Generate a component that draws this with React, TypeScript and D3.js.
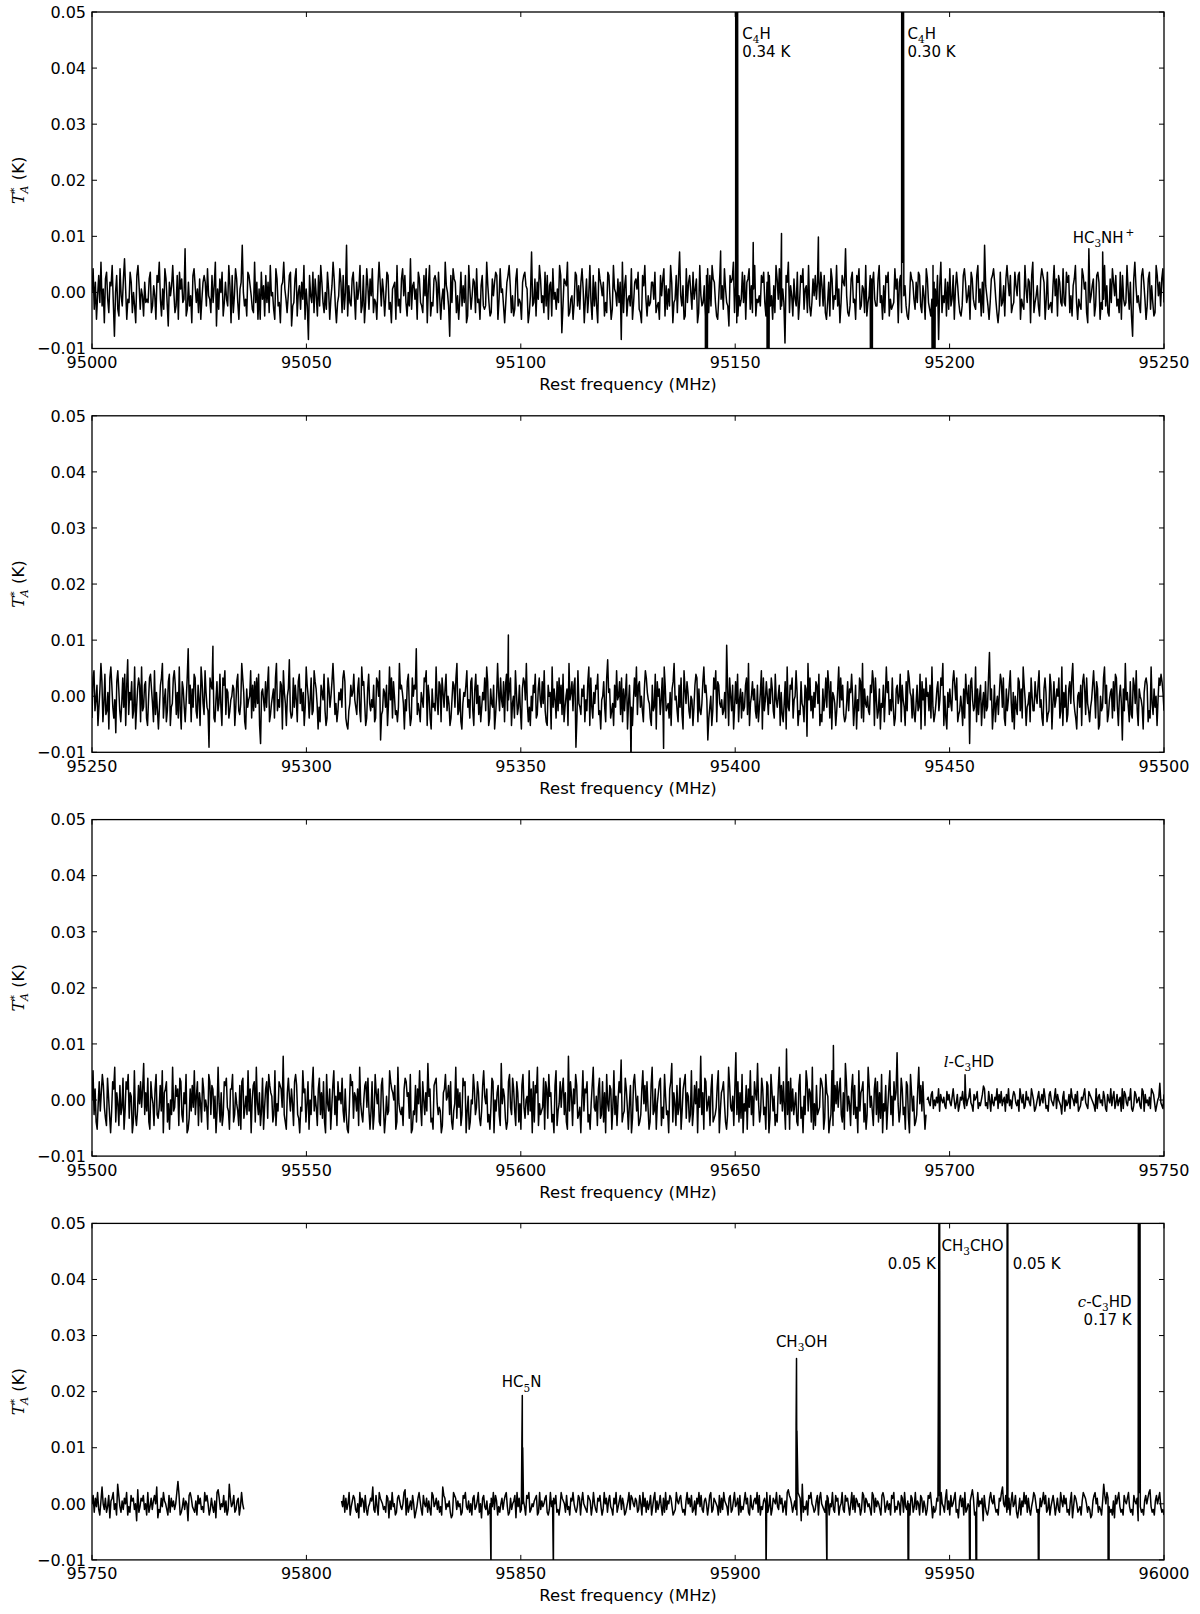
import React, { useEffect, useRef } from 'react';
import * as d3 from 'd3';

// Each character of a noise string is one channel; "u" is zero and every letter
// further along the alphabet is one more step (step size given per segment)
const LEVELS = "abcdefghijklmnopqrstuvwxyzABCDEFGHIJKLMNOPQRSTUVWXYZ";
const ZERO = LEVELS.indexOf("u");

const yTicks = [-0.01, 0, 0.01, 0.02, 0.03, 0.04, 0.05];

// ---- panel 1: 95000-95250 MHz
const noise1 = [
  "uBpxmtzrDqvlyAsoxwCrhuzpnBtqyEvmsrAxouqlzCwpvtnxrs",
  "ryAoqwtmzxDsnvpByrkxtwCuoqzmAvyrsHnpxqtlzBwrvoymsx",
  "zxqBtsozrwDkvpyuAnrxsqCwlzotByrmvxIuqsnAzwtpoDrxmv",
  "mAswnzrxoCtupmByqrlwxDvsotzAkqryBnuwpxsCmvqgztrAoy",
  "tnzqCxroupAvmswDyqlrtBxozpuInwrqyAtmxsvCoqzlrBwpyt",
  "BosrmwDxqyuntAzprlvwxmCqsoyBtzrnuqEpwxsvmAyrqoztBl",
  "wCnrqyzxoAtmsvpDwuqhzrByxotmsAqwrzlnCvptyxoBrsmwzq",
  "pqDwrnoytxAzmsBuvqlrxzCwotnpyBqsrmxzAwvlotGqrynxsC",
  "yrtoAqzmwxnBsupvrCziqyxwDnostmrAzqwpxBvlsyotCrmzqx",
  "qlBywtxnroAzsmpCvuqyrxgDowznstqBmrxyvApolzwCsntqrx",
  "xsAoqrmztyBnwpvqCxlrszoyGtqwmnBrxzupAsvyloCtqrwnzB",
  "ozqCyxrnmtAswpBvrqkzxyDowlntqsArzmxyBpwovCnsrtqzxA",
  "rnxAzqtmwoCysBpqvrfzxDowtnysqAmrzxBpvwoCqnrytzsxAq",
  "AwqzomrxnByptsCqvlrzxwHtonqyArsmzxBpqwvoCnrtzyxAsq",
  "qyCrtmwozxAnspqrBvylxzoDtwqnmrAyxsp",
  "xrAzqowtmByrpnsCxvqzgwDotrynxpBqszmvAwr",
  "onqzBxrtwmAysqpzCrvnxoIwtqmryzBxsolpAqrwnyCxtzoqrA",
  "wtzAmsqpCvryxlzDortwqnyBzxmsApqrowCtynzxrqB",
  "rqAxzotnwyCrmsqpBzvxolHrtwynqzAxmrpsCqwonyrBxtzqso",
  "AmzsqrCvpxnhyDwrtqozBxsmqyApwrnoCztxqyBr",
].join("");
const segments1 = [{ from: 95000, to: 95250, step: 0.0006, codes: noise1 }];
const lines1 = [
  [95143.1, -0.05], [95143.25, -0.15], [95143.4, -0.05],
  [95146.6, 0.0074],
  [95150.15, 0.15], [95150.3, 0.34], [95150.45, 0.15],
  [95154.2, 0.0089],
  [95157.45, -0.05], [95157.6, -0.15], [95157.75, -0.05],
  [95160.8, 0.0105],
  [95169.4, 0.0099],
  [95181.65, -0.05], [95181.8, -0.15], [95181.95, -0.05],
  [95188.85, 0.13], [95189.0, 0.30], [95189.15, 0.13],
  [95196.1, -0.05], [95196.25, -0.15], [95196.4, -0.05],
  [95235.7, 0.0072],
];
const labels1 = [
  { freq: 95151.65, value: 0.0452, text: "C_4H", anchor: "start" },
  { freq: 95151.65, value: 0.0420, text: "0.34 K", anchor: "start" },
  { freq: 95190.2, value: 0.0452, text: "C_4H", anchor: "start" },
  { freq: 95190.2, value: 0.0420, text: "0.30 K", anchor: "start" },
  { freq: 95235.9, value: 0.0089, text: "HC_3NH^+", anchor: "middle" },
];

// ---- panel 2: 95250-95500 MHz
const noise2 = [
  "ozBqtxmrwDynsApqvlzCxrotkyBwqnszrAmxEpvtyoqClrwzxnCqrxyomtzAwsnBpvqlrxzDotwnqyAmrszBxpvoCqlywrntzHsxnwrAzqoxtmCyspBvrqgzxwDontyqsArmzxBpwvoq",
  "tuxwmryAqpsDzvnlwrtuBoxqyrzsAmhvwtqyrxCnpsuwozDqtryxlBvsmuwEqopzrxtnyAswqvmrCxuotzpqBywslrnxvtAqmozwruyDxpsnqvtwrzByomlqsxuvAtrpwzqnCxysmo",
  "wAsqtrxnozyuBipqwvrxmsCtzoyupqnrDwxvsltqyArmozuxwHpsqnvtrzyBmxuolwrsqCtpyxnzvrwAqusmotyxrzDpqwnlsvuxBrtoyzqmwAsxpunrvtzqCymowsrxlpuDvqzt",
  "rynxAqtwzmsuoBvprxqlwzytDsnrmuqxvAopwztrysBqnmxuvlCrwtoyqzsxpAnruwmDtvyqxzgoBsrpwuxntqyCmzrovsxwApqltuyrnzEvwoqsmxrBtuypznwqvAlsxormtzuC",
  "pxyruqnwBzvtsomxqrAlyuwptznCxqrsovmwyDtuqnxrzplBwsyvqoutmrxAznwqpsyCvxtiorumqzwBnyxsrtpqvoIwmzuqxlrysAntwovqrxzpDmsuytwqoxnrvBlzqtyupws",
  "zwqoAtruxmvpnsylCrqxwzotuBvmqpysrnxwjDtzquovryxsAmpnwqtzrBxoylvusmqwCrztxpnosyqwvAumrxltqzyoDnwsruqpxvBymztoqwlsrxnuCvyptqzrmowxsuAn",
  "xtrmyqBzvuowpnsxqrAlytwmzuvqxoCrnpswyqtzxDmuolvrwsqyBxtznpqurmwoAvsxhyztqrCnwpuxmsvoyqrzGtwlqxnsupvAyrzomwqtxBsnvlurpzyqwoCxtmrsvnzuq",
  "qyusxBrtomwzvnpqAxlsyrtwuzoqCmvrxnpwyszDtqoluvrxmyAwpzsqnrtxBvoywlmuqrzCsxnptvwoyqAzrmuxsiwqDtvrnypozxsBqmwutrlvyzxnqoCspwrumtzxAyvq",
].join("");
const segments2 = [{ from: 95250, to: 95500, step: 0.00065, codes: noise2 }];
const lines2 = [
  [95278.2, 0.0089],
  [95347.1, 0.0109],
  [95375.7, -0.013],
  [95383.3, -0.0093],
];
const labels2 = [];

// ---- panel 3: 95500-95750 MHz (noise drops near 95695 MHz)
const noise3a = [
  "uCqxomtzrwByspnAvqlrzxDowtnyqsAmrzxBpwvloCqnrytzsxEqwrAomzvtnxBqpsyrClwxzotmuqDrsyvxnAzqowtBlmpxrysCqvznwtoAxrusmBzqyxpvlrDtownqzyAsrmx",
  "xBoqwtrnymzApsvqCrxluyzoDtqwnrAmsxzpBywvoqCntrzyxsGqomwAvrxtnzByqplsrCwxotzmuqyDrvsnxAqwpzolBtrxmsyCqvnzuwtAroxqmlsByzpwvrxnDtqouyzsArm",
  "rzmqBwtxonyAslpvqrCzxwuymoDtrqsnxAzvwpBlmrqyoxtCsnzuqwrEvxopmyzAtqsrlnwxBuvyqzomrtDpxswnqAyzlrvmoutBxqszwpnryCvtxoqmsAzlurwyqnEtxvpmozBs",
  "qAxrnzwotmyBspuvqCrxlzoywDntqrsAmzxpBvwoqlyCnrtzsxAqwomGrzvnxtBypqsluCrxwzoqmtyDsrvnxApqzowlBtryxmsCqvnuzwFoqrAxsmtylpzBwrvnoqxCtyrzsm",
  "oyDqrxmtwzAnspBvqrlxzEowtnyqsAmrxzBpwvoqCnrytzlxsGqwmAzrtvnxBopqsyClrwxztomqDysrvnxHqzowpBltrymxsCqvnzwuEtorAxqsmzylpBwrvnqoxDtyrzsmIq",
  "zmArxqtwonyBpslvqCzrxwoDmtnyqrsAzxmpBwvloqCnrytzsxAqowmEzrvtnxBqypslCrwxzotmqDysvrnxAqzowpBltrymsxCqvnzuwHtorAxqsmzyplBwrvnoqxDtyrzsmq",
].join("");
const noise3b = [
  "uvtswxrusvtyqwutvsrxuwtsvyurtwqsvuxtrwsuvytsqwuvxrtsuwzystrxuqwtsvuyrwtxsuvqwtysurvxwtsuqyvtwrsxuvtsywuqrtvxsuwtyvrsqwxutsvyrwuts",
  "pvxqustwryvuswtxqrsvuwytsrxwvutsqyrvwtusxvrqwutysvxrtwsuvqyrxwtsvuyrqsxwtuvsryxqwtusvryxwtqsuvAtsrw",
].join("");
const segments3 = [
  { from: 95500, to: 95694.5, step: 0.00065, codes: noise3a },
  { from: 95694.75, to: 95750, step: 0.0005, codes: noise3b },
];
const lines3 = [
  [95672.9, 0.0097],
  [95703.6, 0.0045],
];
const labels3 = [
  { freq: 95704.5, value: 0.0059, text: "~l-C_3HD", anchor: "middle" },
];

// ---- panel 4: 95750-96000 MHz (no data between 95785 and 95808 MHz)
const noise4a = "uxrwtysqvAuswrtxpvwysuqBxtrvswuyqtrxvwsuozrtwvxsuqyrtwsvxuApsrwtyvusqxrwtvsuyCxqrtwsvuoxywtsrvqxuwstryvxuqswtrvpyzwsutxrvqsBwtuxrsvwqtyus";
const noise4b = [
  "vtxrwsuyqtvxwsrupytwvrxsqtuwvAsrxtqywvustrxwpvsytuqrwxvtsuyzqwrtvsxuprtwyvsqxutwrvsqyxtuwsvrtqAxwsutvrpqyxwsvtuqrxwytsvruqwxstvyrupwxtsvq",
  "ruwtysxvqtruwsvxytqrwsuvxpytwrsuvtqxwyrsutvwxqrysvtuwxrqsytvwuxrsqtywvurxstqwvyusrtxwqvyutsrxwvqtyusrwvxtqsyuwrvxtsqwuyrtvxswuqrtvysxwu",
  "twvrsxuqytwrvsuxqtwyrvsuxtqwrysvuxwtqrsyvuwxtrsqvyuwtxrsvqwuytxsrvwuqtxyrswvutqxrwsyvutqwxrsvytuwqxrtsvyuwrqxtsvwuyrxqtsvwuyrtxqswvuyt",
  "sxuwrtvqyzxwurtvsqyxwoBrtsvqxwyutrsvxqwyutsrvxwqutysrxvwqtuysrxvwtquysxrwvtuqsyxrwvtusqyxrwtvusqxywrtvsuqxwyrtsvuqxwrytsvuqxwrtysvuqxw",
  "rvtqsxwyuptrswvxqyutrwzsvqxtuwyrspvxtwqyrsutvxzwqrsytvuwoxtrqswyvuxtrsqwvyAutxrswqvytuxrpswqvtyuxrwsqtvyxursqwtvyuxrswqtv",
  "xuqtwsryvtxuwrsqvyptxwurstqvyxwurtspqvxyuwrtsqvBxuywtrsqvpxuwytrsqxvuwytrsqxvuwoytrsqvxuwyztrsqvxuwytrsq",
].join("");
const segments4 = [
  { from: 95750, to: 95785.4, step: 0.0005, codes: noise4a },
  { from: 95808.2, to: 96000, step: 0.0005, codes: noise4b },
];
const lines4 = [
  [95843.05, -0.012],
  [95850.25, 0.011], [95850.35, 0.0193], [95850.45, 0.010],
  [95857.6, -0.012],
  [95907.2, -0.013],
  [95914.2, 0.014], [95914.3, 0.0259], [95914.4, 0.013],
  [95921.4, -0.013],
  [95940.4, -0.025],
  [95947.52, 0.052], [95947.68, 0.052],
  [95954.8, -0.025], [95956.3, -0.025],
  [95963.42, 0.052], [95963.58, 0.052],
  [95970.8, -0.025],
  [95987.1, -0.085],
  [95994.05, 0.1], [95994.2, 0.17], [95994.35, 0.1],
];
const labels4 = [
  { freq: 95850.2, value: 0.0208, text: "HC_5N", anchor: "middle" },
  { freq: 95915.5, value: 0.0280, text: "CH_3OH", anchor: "middle" },
  { freq: 95946.8, value: 0.0418, text: "0.05 K", anchor: "end" },
  { freq: 95948.1, value: 0.0451, text: "CH_3CHO", anchor: "start" },
  { freq: 95964.7, value: 0.0418, text: "0.05 K", anchor: "start" },
  { freq: 95992.45, value: 0.0351, text: "~c-C_3HD", anchor: "end" },
  { freq: 95992.45, value: 0.0318, text: "0.17 K", anchor: "end" },
];

const panels = [
  { range: [95000, 95250], segments: segments1, lines: lines1, labels: labels1 },
  { range: [95250, 95500], segments: segments2, lines: lines2, labels: labels2 },
  { range: [95500, 95750], segments: segments3, lines: lines3, labels: labels3 },
  { range: [95750, 96000], segments: segments4, lines: lines4, labels: labels4 },
];

const FONT = "DejaVu Sans";
const plotLeft = 92;
const plotRight = 1164;
const firstTop = 12;
const panelStep = 403.8;
const panelH = 336.5;

// turn a noise segment into [freq, value] points spread evenly over its range
function decode(seg) {
  const n = seg.codes.length;
  const df = (seg.to - seg.from) / (n - 1);
  return Array.from(seg.codes, (c, i) => [seg.from + i * df, (LEVELS.indexOf(c) - ZERO) * seg.step]);
}

// tiny markup: _x subscript, ^x superscript, ~x italic
function richText(sel, str, size) {
  const parts = [];
  for (let i = 0; i < str.length; i++) {
    const c = str[i];
    if ((c === "_" || c === "^" || c === "~") && i + 1 < str.length) {
      parts.push({ t: str[i + 1], k: c });
      i++;
    } else if (parts.length && parts[parts.length - 1].k === "") {
      parts[parts.length - 1].t += c;
    } else {
      parts.push({ t: c, k: "" });
    }
  }
  let shift = 0;
  parts.forEach(p => {
    const target = p.k === "_" ? size * 0.3 : p.k === "^" ? -size * 0.45 : 0;
    const ts = sel.append("tspan").attr("dy", target - shift).text(p.t);
    shift = target;
    if (p.k === "_") ts.attr("font-size", size * 0.7).attr("font-family", "DejaVu Serif");
    if (p.k === "^") ts.attr("font-size", size * 0.7).attr("dx", 2);
    if (p.k === "~") ts.attr("font-style", "italic").attr("font-family", "DejaVu Serif");
  });
}

export default function App() {
  const ref = useRef(null);

  useEffect(() => {
    const svg = d3.select(ref.current);
    svg.selectAll("*").remove();
    const fmt = d3.format(".2f");

    panels.forEach((p, k) => {
      const top = firstTop + k * panelStep;
      const bottom = top + panelH;
      const x = d3.scaleLinear().domain(p.range).range([plotLeft, plotRight]);
      const y = d3.scaleLinear().domain([-0.01, 0.05]).range([bottom, top]);
      const g = svg.append("g");

      const clipId = `clip-${k}`;
      svg.append("clipPath").attr("id", clipId)
        .append("rect")
        .attr("x", plotLeft).attr("y", top)
        .attr("width", plotRight - plotLeft).attr("height", panelH);

      const line = d3.line().x(d => x(d[0])).y(d => y(d[1]));

      // spectrum
      p.segments.forEach(seg => {
        const pts = decode(seg)
          .concat(p.lines.filter(l => l[0] >= seg.from && l[0] <= seg.to))
          .sort((a, b) => a[0] - b[0]);
        g.append("path")
          .attr("d", line(pts))
          .attr("clip-path", `url(#${clipId})`)
          .attr("fill", "none")
          .attr("stroke", "#000")
          .attr("stroke-width", 1.5)
          .attr("stroke-linejoin", "round");
      });

      // frame
      g.append("rect")
        .attr("x", plotLeft).attr("y", top)
        .attr("width", plotRight - plotLeft).attr("height", panelH)
        .attr("fill", "none").attr("stroke", "#000").attr("stroke-width", 1.3);

      // ticks on all four sides, pointing in
      const xTicks = d3.range(p.range[0], p.range[1] + 1, 50);
      xTicks.forEach(t => {
        g.append("line").attr("x1", x(t)).attr("x2", x(t)).attr("y1", bottom).attr("y2", bottom - 5)
          .attr("stroke", "#000").attr("stroke-width", 1);
        g.append("line").attr("x1", x(t)).attr("x2", x(t)).attr("y1", top).attr("y2", top + 5)
          .attr("stroke", "#000").attr("stroke-width", 1);
        g.append("text")
          .attr("x", x(t)).attr("y", bottom + 19.5)
          .attr("text-anchor", "middle")
          .attr("font-family", FONT).attr("font-size", 16)
          .text(t);
      });
      yTicks.forEach(t => {
        g.append("line").attr("x1", plotLeft).attr("x2", plotLeft + 5).attr("y1", y(t)).attr("y2", y(t))
          .attr("stroke", "#000").attr("stroke-width", 1);
        g.append("line").attr("x1", plotRight).attr("x2", plotRight - 5).attr("y1", y(t)).attr("y2", y(t))
          .attr("stroke", "#000").attr("stroke-width", 1);
        g.append("text")
          .attr("x", plotLeft - 6).attr("y", y(t))
          .attr("dy", "0.36em")
          .attr("text-anchor", "end")
          .attr("font-family", FONT).attr("font-size", 16)
          .text(fmt(t));
      });

      // axis titles
      g.append("text")
        .attr("x", (plotLeft + plotRight) / 2).attr("y", bottom + 41.5)
        .attr("text-anchor", "middle")
        .attr("font-family", FONT).attr("font-size", 16.5)
        .text("Rest frequency (MHz)");

      const yl = g.append("text")
        .attr("transform", `translate(24,${(top + bottom) / 2}) rotate(-90)`)
        .attr("text-anchor", "middle")
        .attr("font-family", FONT).attr("font-size", 16.5);
      yl.append("tspan").attr("font-family", "DejaVu Serif").attr("font-style", "italic").text("T");
      yl.append("tspan").attr("font-size", 11).attr("dy", -6).text("*");
      yl.append("tspan").attr("font-family", "DejaVu Serif").attr("font-style", "italic")
        .attr("font-size", 11).attr("dx", -6).attr("dy", 10).text("A");
      yl.append("tspan").attr("dy", -4).text(" (K)");

      // line annotations
      p.labels.forEach(lb => {
        const t = g.append("text")
          .attr("x", x(lb.freq)).attr("y", y(lb.value))
          .attr("text-anchor", lb.anchor)
          .attr("font-family", FONT).attr("font-size", 15);
        richText(t, lb.text, 15);
      });
    });
  }, []);

  return (
    <svg
      ref={ref}
      width={1200}
      height={1614}
      style={{ position: 'absolute', left: 0, top: 0, background: '#fff' }}
    />
  );
}
